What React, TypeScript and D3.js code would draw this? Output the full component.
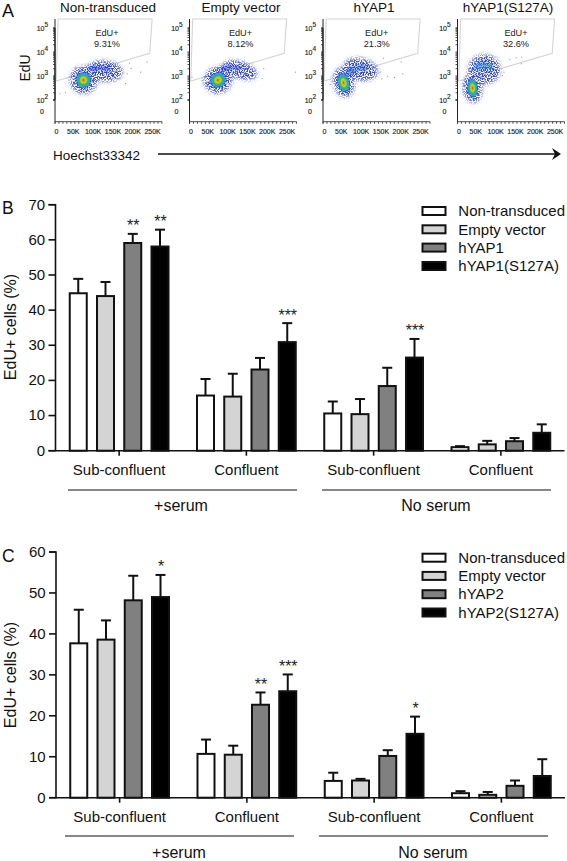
import React from "react";
import * as d3 from "d3";

// ---- Panel A data (x in thousands, y as log10 decades) ----
const flowTitles = ["Non-transduced", "Empty vector", "hYAP1", "hYAP1(S127A)"];
const flowPercents = ["9.31%", "8.12%", "21.3%", "32.6%"];
const xTickLabels = ["0", "50K", "100K", "150K", "200K", "250K"];
const gateVertices = [[8, 5.375], [245, 5.375], [239, 3.946], [3, 2.79]];
// [cx, cy, rx, ry, angle]
const flowCores = [
  [[72, 2.83, 22, 0.37, -25]],
  [[72, 2.83, 23, 0.35, -25]],
  [[52, 2.72, 17, 0.45, -15]],
  [[38, 2.5, 15, 0.44, -5]],
];
const flowDense = [
  [[100, 3.32, 20, 0.12, -5], [125, 3.3, 14, 0.1, 0]],
  [[92, 3.34, 18, 0.12, -15], [118, 3.34, 16, 0.09, 10]],
  [[72, 3.22, 16, 0.18, -35], [100, 3.36, 16, 0.13, 0]],
  [[57, 3.42, 15, 0.2, -10], [78, 3.4, 14, 0.16, 0]],
];
const denseFill = ["#1d3fd6", "#1d3fd6", "#1f62cc", "#1f7ec4"];
const flowClouds = [
  [[72, 2.83, 34, 0.58, -20], [125, 3.2, 46, 0.44, 5], [95, 3.25, 24, 0.27, -20]],
  [[72, 2.83, 36, 0.55, -20], [128, 3.25, 44, 0.36, 18], [95, 3.3, 26, 0.26, -25]],
  [[52, 2.72, 26, 0.62, -15], [95, 3.28, 44, 0.46, 12], [65, 3.15, 24, 0.36, -40]],
  [[38, 2.5, 24, 0.62, -5], [68, 3.28, 40, 0.62, 5], [45, 3.2, 18, 0.52, 0]],
];
const flowOutliers = [
  [[215, 3.18], [191, 3.33], [187, 3.55], [231, 3.6], [25, 2.32], [11, 2.28], [50, 3.39], [177, 2.71], [181, 3.11]],
  [[266, 3.18], [186, 3.33], [182, 2.92], [65, 2.28], [31, 2.83], [5, 2.97]],
  [[151, 3.76], [196, 3.6], [200, 3.11], [179, 2.96], [162, 3.01], [143, 3.18], [17, 2.67], [30, 2.7], [147, 2.9]],
  [[131, 3.7], [147, 3.78], [161, 3.8], [160, 3.53], [112, 3.04], [116, 3.18]],
];

// ---- Panels B and C data ----
const groupLabels = ["Sub-confluent", "Confluent", "Sub-confluent", "Confluent"];
const conditionLabels = ["+serum", "No serum"];
const seriesFill = ["#ffffff", "#d4d4d4", "#808080", "#000000"];
const legendB = ["Non-transduced", "Empty vector", "hYAP1", "hYAP1(S127A)"];
const legendC = ["Non-transduced", "Empty vector", "hYAP2", "hYAP2(S127A)"];

const valuesB = [
  [44.8, 44.0, 59.1, 58.1],
  [15.7, 15.4, 23.1, 30.9],
  [10.6, 10.4, 18.4, 26.5],
  [1.0, 1.8, 2.7, 5.1],
];
const errorTopB = [
  [48.9, 48.0, 61.7, 62.9],
  [20.4, 21.9, 26.4, 36.3],
  [14.0, 14.7, 23.6, 31.8],
  [1.3, 2.8, 3.6, 7.5],
];
const starsB = [
  ["", "", "**", "**"],
  ["", "", "", "***"],
  ["", "", "", "***"],
  ["", "", "", ""],
];
const valuesC = [
  [37.7, 38.6, 48.2, 49.0],
  [10.7, 10.5, 22.7, 26.0],
  [4.1, 4.2, 10.2, 15.6],
  [1.1, 0.7, 2.9, 5.3],
];
const errorTopC = [
  [45.9, 43.3, 54.2, 54.4],
  [14.2, 12.7, 25.7, 30.1],
  [6.1, 4.6, 11.6, 19.8],
  [1.6, 1.4, 4.2, 9.4],
];
const starsC = [
  ["", "", "", "*"],
  ["", "", "**", "***"],
  ["", "", "", "*"],
  ["", "", "", ""],
];

// ---- Layout ----
const FONT = "'Liberation Sans', Arial, sans-serif";
const flowOrigins = [55, 189.5, 323, 457.5];
const flowTitleX = [108, 241, 374, 508];
const flowGateLabelX = [52, 51, 53.7, 58.5];

function Ax({ axis, style }: { axis: any; style: (g: any) => void }) {
  return (
    <g
      ref={(el) => {
        if (el) {
          const g = d3.select(el);
          g.selectAll("*").remove();
          g.call(axis);
          style(g);
        }
      }}
    />
  );
}

function FlowPlot({ i }: { i: number }) {
  const x = d3.scaleLinear().domain([0, 270]).range([0, 107]);
  const yLog = d3.scaleLog().domain([100, 100000]).range([100, 28]);
  const y = (dec: number) => yLog(Math.pow(10, dec));
  const xPerK = x(1) - x(0);
  const yPerDec = y(2) - y(3);
  const bottom = 121.7;
  const xAxis = d3.axisBottom(x).tickValues(d3.range(0, 261, 10)).tickSize(2).tickFormat(() => "").offset(0);
  const minor = d3.range(2, 5).flatMap((d) => d3.range(1, 10).map((k) => k * Math.pow(10, d)));
  const yAxis = d3.axisLeft(yLog).tickValues(minor).tickSize(2).tickFormat(() => "").offset(0);
  const ell = (e: number[], k: number) => (
    <ellipse
      key={k}
      cx={x(e[0])}
      cy={y(e[1])}
      rx={e[2] * xPerK}
      ry={e[3] * yPerDec}
      transform={`rotate(${e[4]} ${x(e[0])} ${y(e[1])})`}
    />
  );
  const gate = gateVertices.map((v) => `${x(v[0])},${y(v[1])}`).join(" ");
  return (
    <g transform={`translate(${flowOrigins[i]},0)`} fontFamily={FONT}>
      <polygon points={gate} fill="none" stroke="#d4d4d4" strokeWidth={1.1} />
      <g fill="#2a3ae0" filter="url(#speckle)">{flowClouds[i].map(ell)}</g>
      <g fill={denseFill[i]} opacity={0.55} filter="url(#speckleDense)">{flowDense[i].map(ell)}</g>
      <g fill="url(#density)" filter="url(#soft)">{flowCores[i].map(ell)}</g>
      {flowOutliers[i].map((p, k) => (
        <rect key={k} x={x(p[0])} y={y(p[1])} width={1} height={1} fill="#7a84e8" />
      ))}
      <g transform={`translate(0,${bottom})`}>
        <Ax axis={xAxis} style={(g) => g.selectAll("path,line").attr("stroke", "#222").attr("stroke-width", 0.8)} />
      </g>
      <Ax axis={yAxis} style={(g) => g.selectAll("line").attr("stroke", "#222").attr("stroke-width", 0.8)} />
      <line x1={0} x2={0} y1={19} y2={bottom} stroke="#222" strokeWidth={1} />
      {xTickLabels.map((t, k) => (
        <text key={k} x={k === 0 ? 1.5 : x(k * 50) - 1.5} y={134} fontSize={7} textAnchor="middle" fill="#222" stroke="#222" strokeWidth={0.15}>
          {t}
        </text>
      ))}
      {[2, 3, 4, 5].map((d) => (
        <text key={d} x={-10.5} y={y(d) + 2.5} fontSize={7} textAnchor="end" fill="#222" stroke="#222" strokeWidth={0.15}>
          10
        </text>
      ))}
      {[2, 3, 4, 5].map((d) => (
        <text key={d} x={-10.5} y={y(d) - 1} fontSize={6.5} fill="#222" stroke="#222" strokeWidth={0.15}>
          {d}
        </text>
      ))}
      <text x={-13} y={113.5} fontSize={7} textAnchor="middle" fill="#222" stroke="#222" strokeWidth={0.15}>0</text>
      <text x={flowGateLabelX[i]} y={36} fontSize={9.2} textAnchor="middle" fill="#222">EdU+</text>
      <text x={flowGateLabelX[i]} y={47} fontSize={9.2} textAnchor="middle" fill="#222">{flowPercents[i]}</text>
    </g>
  );
}

function BarPanel({
  y0, yTop, yMax, values, errs, stars, legend, legendY, yTitleY, lineY, condY, lineX, condX, letter, letterY, dx,
}: any) {
  const y = d3.scaleLinear().domain([0, yMax]).range([y0, yTop]);
  const gx = d3.scaleBand<number>().domain([0, 1, 2, 3]).range([55.5 + dx, 564.5 + dx]);
  const sx = d3.scaleBand<number>().domain([0, 1, 2, 3]).range([-54.5, 54.5]).paddingInner(0.376).paddingOuter(0.188);
  const bw = sx.bandwidth();
  const yAxis = d3.axisLeft(y).ticks(yMax / 10).tickSize(7).tickPadding(3.3).offset(0);
  const xAxis = d3.axisBottom(gx).tickSize(5).tickPadding(8.7).tickSizeOuter(0).offset(0).tickFormat((d: number) => groupLabels[d]);
  const styleAxis = (g: any) => {
    g.selectAll("path,line").attr("stroke", "#111").attr("stroke-width", 1.6);
    g.selectAll("text").attr("font-size", 15).attr("font-family", FONT).attr("fill", "#111");
  };
  return (
    <g fontFamily={FONT} fill="#111">
      <text x={2} y={letterY} fontSize={17.5}>{letter}</text>
      {values.map((row: number[], g: number) =>
        row.map((v, s) => {
          const cx = (gx(g) as number) + gx.bandwidth() / 2 + (sx(s) as number) + bw / 2;
          return (
            <g key={`${g}-${s}`}>
              <line x1={cx} x2={cx} y1={y(v)} y2={y(errs[g][s])} stroke="#111" strokeWidth={2} />
              <line x1={cx - 5} x2={cx + 5} y1={y(errs[g][s])} y2={y(errs[g][s])} stroke="#111" strokeWidth={2} />
              <rect x={cx - bw / 2} y={y(v)} width={bw} height={y0 - y(v)} fill={seriesFill[s]} stroke="#111" strokeWidth={2} />
              {stars[g][s] && (
                <text x={cx + 0.5} y={y(errs[g][s]) - 2.5} fontSize={16} textAnchor="middle" fill="#222">
                  {stars[g][s]}
                </text>
              )}
            </g>
          );
        })
      )}
      <g transform={`translate(${55.5 + dx},0)`}>
        <Ax axis={yAxis} style={styleAxis} />
      </g>
      <g transform={`translate(0,${y0})`}>
        <Ax axis={xAxis} style={styleAxis} />
      </g>
      <text transform={`translate(${dx + 15.5},${yTitleY}) rotate(-90)`} textAnchor="middle" fontSize={16}>EdU+ cells (%)</text>
      {conditionLabels.map((c, k) => (
        <g key={c}>
          <line x1={lineX[k][0]} x2={lineX[k][1]} y1={lineY} y2={lineY} stroke="#111" strokeWidth={1.2} />
          <text x={condX[k]} y={condY} textAnchor="middle" fontSize={16}>{c}</text>
        </g>
      ))}
      {legend.map((t: string, k: number) => (
        <g key={t}>
          <rect x={422.5} y={legendY[k] - 4} width={23} height={8} fill={seriesFill[k]} stroke="#111" strokeWidth={2} />
          <text x={458.3} y={legendY[k] + 5.2} fontSize={15}>{t}</text>
        </g>
      ))}
    </g>
  );
}

export default function App() {
  return (
    <svg width={567} height={861} style={{ position: "absolute", left: 0, top: 0, display: "block" }}>
      <defs>
        <filter id="speckle" x="-40%" y="-40%" width="180%" height="180%" colorInterpolationFilters="sRGB">
          <feTurbulence type="fractalNoise" baseFrequency="0.8" numOctaves={1} seed={7} result="n" />
          <feColorMatrix in="n" type="matrix" values="0 0 0 0 0.2  0 0 0 0 0.27  0 0 0 0 0.88  8 0 0 0 -3.5" result="dots" />
          <feGaussianBlur in="SourceAlpha" stdDeviation="2.2" result="mask" />
          <feComposite in="dots" in2="mask" operator="in" />
        </filter>
        <filter id="speckleDense" x="-40%" y="-40%" width="180%" height="180%" colorInterpolationFilters="sRGB">
          <feGaussianBlur stdDeviation="1.4" />
        </filter>
        <filter id="soft" x="-30%" y="-30%" width="160%" height="160%">
          <feGaussianBlur stdDeviation="0.7" />
        </filter>
        <radialGradient id="density">
          <stop offset="0" stopColor="#e6402a" />
          <stop offset="0.16" stopColor="#e8a020" />
          <stop offset="0.32" stopColor="#b8d828" />
          <stop offset="0.5" stopColor="#30c050" />
          <stop offset="0.7" stopColor="#20a8c8" stopOpacity="0.95" />
          <stop offset="0.88" stopColor="#2a50e0" stopOpacity="0.6" />
          <stop offset="1" stopColor="#2a50e0" stopOpacity="0" />
        </radialGradient>
      </defs>
      <rect width={567} height={861} fill="#fff" />

      <g fontFamily={FONT} fill="#111">
        <text x={2} y={17} fontSize={18}>A</text>
        {flowTitles.map((t, i) => (
          <text key={t} x={flowTitleX[i]} y={12} fontSize={13.5} textAnchor="middle">{t}</text>
        ))}
        <text transform="translate(30,68) rotate(-90)" textAnchor="middle" fontSize={14}>EdU</text>
        <text x={53} y={160} fontSize={13.5}>Hoechst33342</text>
      </g>
      {flowTitles.map((t, i) => <FlowPlot key={t} i={i} />)}
      <line x1={158} x2={556} y1={154} y2={154} stroke="#111" strokeWidth={1.5} />
      <path d="M552,148 L561,154 L552,160 L555,154 Z" fill="#111" />

      <BarPanel
        y0={450.7} yTop={204.7} yMax={70} values={valuesB} errs={errorTopB} stars={starsB}
        legend={legendB} legendY={[211, 229.3, 247.6, 266]} yTitleY={327}
        lineY={490} condY={511} lineX={[[68, 297], [322, 551]]} condX={[181, 436]}
        letter="B" letterY={214} dx={0}
      />
      <BarPanel
        y0={797.7} yTop={552} yMax={60} values={valuesC} errs={errorTopC} stars={starsC}
        legend={legendC} legendY={[557.7, 575.9, 594.2, 612.5]} yTitleY={675}
        lineY={836} condY={858} lineX={[[65, 294], [319, 548]]} condX={[179, 433]}
        letter="C" letterY={562} dx={0.5}
      />
    </svg>
  );
}
